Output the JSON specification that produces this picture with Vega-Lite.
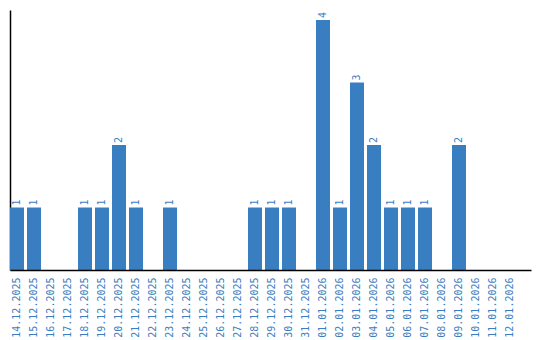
{
  "$schema": "https://vega.github.io/schema/vega-lite/v6.json",
  "autosize": "none",
  "padding": {"left": 10, "top": 10, "right": 9, "bottom": 70},
  "width": 521,
  "height": 260,
  "background": "white",
  "config": {"view": {"stroke": null}},
  "data": {"values": [
    {"d": "14.12.2025", "v": 1}, {"d": "15.12.2025", "v": 1}, {"d": "16.12.2025", "v": 0},
    {"d": "17.12.2025", "v": 0}, {"d": "18.12.2025", "v": 1}, {"d": "19.12.2025", "v": 1},
    {"d": "20.12.2025", "v": 2}, {"d": "21.12.2025", "v": 1}, {"d": "22.12.2025", "v": 0},
    {"d": "23.12.2025", "v": 1}, {"d": "24.12.2025", "v": 0}, {"d": "25.12.2025", "v": 0},
    {"d": "26.12.2025", "v": 0}, {"d": "27.12.2025", "v": 0}, {"d": "28.12.2025", "v": 1},
    {"d": "29.12.2025", "v": 1}, {"d": "30.12.2025", "v": 1}, {"d": "31.12.2025", "v": 0},
    {"d": "01.01.2026", "v": 4}, {"d": "02.01.2026", "v": 1}, {"d": "03.01.2026", "v": 3},
    {"d": "04.01.2026", "v": 2}, {"d": "05.01.2026", "v": 1}, {"d": "06.01.2026", "v": 1},
    {"d": "07.01.2026", "v": 1}, {"d": "08.01.2026", "v": 0}, {"d": "09.01.2026", "v": 2},
    {"d": "10.01.2026", "v": 0}, {"d": "11.01.2026", "v": 0}, {"d": "12.01.2026", "v": 0}
  ]},
  "encoding": {
    "x": {
      "field": "d", "type": "nominal", "sort": null,
      "scale": {"paddingInner": 0.1765, "paddingOuter": 0.4118, "align": 0},
      "axis": {
        "title": null, "labelAngle": -90, "labelColor": "#3a7dc1", "labelFont": "DejaVu Sans Mono",
        "labelFontSize": 10, "labelPadding": 7, "ticks": false, "domainColor": "#000000", "domainWidth": 1.5,
        "grid": false, "zindex": 1
      }
    },
    "y": {
      "field": "v", "type": "quantitative",
      "scale": {"domain": [0, 4.16], "nice": false},
      "axis": {"title": null, "labels": false, "ticks": false, "grid": false, "domainColor": "#000000", "domainWidth": 1.5}
    }
  },
  "layer": [
    {"mark": {"type": "bar", "color": "#3a7ec2"}},
    {
      "mark": {"type": "text", "angle": -90, "align": "left", "baseline": "middle", "dx": 2, "font": "DejaVu Sans Mono", "fontSize": 10, "color": "#3a7dc1"},
      "encoding": {"text": {"condition": {"test": "datum.v > 0", "field": "v", "type": "quantitative"}, "value": ""}}
    }
  ]
}
